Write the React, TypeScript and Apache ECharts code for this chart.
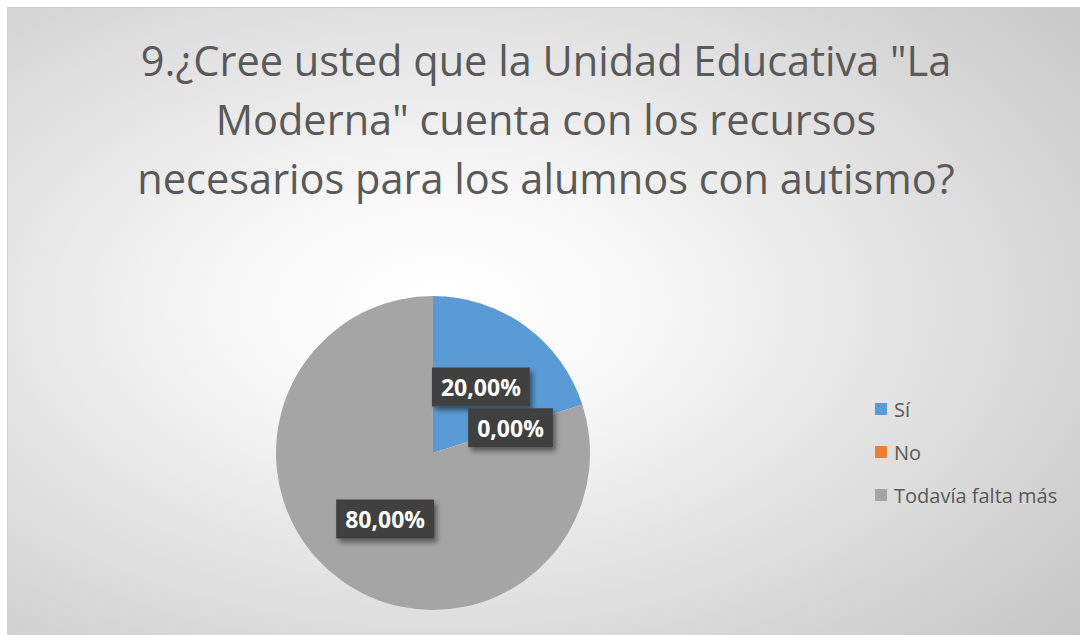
import React, { useEffect, useRef } from "react";
import * as echarts from "echarts";

const titleLines = [
  '9.¿Cree usted que la Unidad Educativa "La',
  'Moderna" cuenta con los recursos',
  'necesarios para los alumnos con autismo?',
];
const categories = ["Sí", "No", "Todavía falta más"];
const values = [20, 0, 80];
const colors = ["#5B9BD5", "#ED7D31", "#A5A5A5"];

export default function App() {
  const ref = useRef<HTMLDivElement>(null);
  useEffect(() => {
    if (!ref.current) return;
    const chart = echarts.init(ref.current, null, { renderer: "svg" });
    chart.setOption({
      animation: false,
      graphic: [
        {
          type: "rect",
          z: -10,
          silent: true,
          shape: { x: 7.5, y: 7.5, width: 1080, height: 635 },
          style: {
            fill: {
              type: "radial",
              x: 0.4,
              y: 0.47,
              r: 0.82,
              colorStops: [
                { offset: 0, color: "#ffffff" },
                { offset: 0.22, color: "#f8f8f8" },
                { offset: 1, color: "#c3c3c3" },
              ],
            },
            stroke: "#d0d0d0",
            lineWidth: 1,
          },
        },
        {
          type: "text",
          x: 546,
          y: 30,
          silent: true,
          style: {
            text: titleLines.join("\n"),
            align: "center",
            verticalAlign: "top",
            fontFamily: "Open Sans",
            fontSize: 41.5,
            lineHeight: 59,
            fill: "#595959",
          },
        },
      ],
      legend: {
        orient: "vertical",
        left: 870,
        top: 394,
        itemWidth: 12,
        itemHeight: 12,
        itemGap: 23,
        icon: "rect",
        data: categories,
        textStyle: {
          fontFamily: "Open Sans",
          fontSize: 20,
          color: "#595959",
          padding: [0, 0, 0, 2],
        },
      },
      series: [
        {
          type: "pie",
          center: [433, 453],
          radius: 157,
          startAngle: 90,
          clockwise: true,
          avoidLabelOverlap: false,
          emphasis: { disabled: true },
          itemStyle: { borderWidth: 0 },
          labelLine: { show: false },
          label: {
            show: true,
            position: "inside",
            formatter: (p: any) => p.value.toFixed(2).replace(".", ",") + "%",
            color: "#ffffff",
            fontFamily: "Open Sans",
            fontWeight: "bold",
            fontSize: 23,
            backgroundColor: "#404040",
            padding: [8, 9, 8, 9],
            shadowColor: "rgba(0,0,0,0.45)",
            shadowBlur: 5,
            shadowOffsetX: 3,
            shadowOffsetY: 4,
          },
          data: categories.map((c, i) => ({
            name: c,
            value: values[i],
            itemStyle: { color: colors[i] },
          })),
        },
      ],
    });
    return () => chart.dispose();
  }, []);
  return (
    <div
      ref={ref}
      style={{ position: "absolute", left: 0, top: 0, width: 1080, height: 635 }}
    />
  );
}
